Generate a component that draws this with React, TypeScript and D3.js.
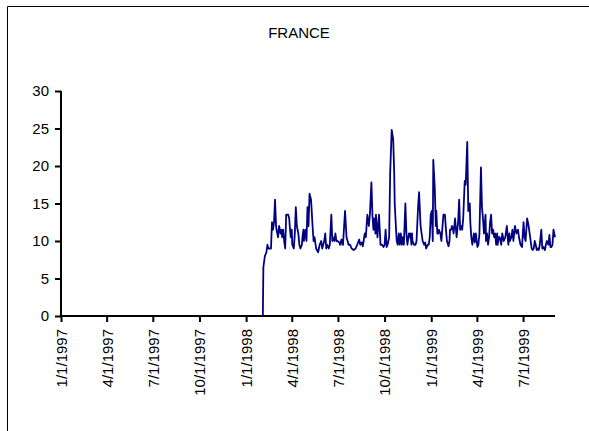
import React, { useRef, useEffect } from 'react';
import * as d3 from 'd3';

// series start date, days after it for each point, and the value
const seriesStart = '1998-02-03';
const dayOffsets = [
  0, 1, 4, 7, 9, 11, 16, 18, 20, 22, 24, 26, 27, 30, 32, 35, 37, 38, 40, 42,
  44, 46, 50, 52, 53, 55, 57, 58, 61, 63, 65, 67, 70, 72, 74, 77, 78, 80, 81, 84,
  86, 88, 90, 92, 95, 98, 100, 102, 104, 105, 109, 112, 115, 117, 119, 121, 123, 125, 127, 130,
  132, 135, 137, 138, 141, 143, 145, 147, 151, 152, 155, 157, 158, 162, 165, 167, 169, 172, 175, 179,
  183, 186, 190, 192, 195, 197, 201, 203, 206, 209, 211, 214, 216, 218, 220, 222, 223, 226, 229, 232,
  235, 238, 240, 242, 244, 246, 249, 251, 254, 257, 259, 260, 263, 264, 266, 268, 270, 272, 274, 276,
  278, 281, 283, 285, 288, 289, 291, 293, 294, 295, 298, 301, 303, 306, 308, 311, 313, 315, 318, 320,
  322, 325, 327, 329, 331, 333, 335, 336, 339, 341, 342, 344, 346, 347, 350, 352, 356, 359, 361, 363,
  366, 368, 369, 371, 373, 375, 376, 379, 382, 385, 387, 389, 391, 393, 395, 398, 400, 403, 405, 408,
  409, 411, 413, 416, 418, 420, 423, 425, 427, 430, 432, 434, 436, 439, 440, 442, 444, 446, 448, 450,
  452, 454, 456, 458, 460, 462, 463, 465, 467, 470, 472, 475, 478, 481, 484, 486, 487, 490, 492, 494,
  497, 500, 503, 505, 508, 511, 514, 516, 518, 521, 524, 527, 530, 532, 534, 536, 538, 540, 542, 544,
  546, 549, 551, 553, 556, 558, 560, 563, 565, 567, 569, 571, 573, 576,
];
const values = [
  0, 6.5, 8, 8.5, 9.5, 9, 9, 12.5, 11.5, 12.5, 15.5, 12, 11.5, 10.5, 12, 11, 11.5, 10.5, 11.5, 10,
  9, 13.5, 13.5, 13, 12, 10.5, 11.5, 9.5, 9, 11, 14.5, 12, 11, 9.5, 9, 9.5, 10.5, 11.5, 10, 11.5,
  10, 14.5, 12, 16.3, 15.5, 12, 10, 10.5, 9.5, 9, 8.5, 9.5, 10, 9, 9.5, 10, 11, 9, 9.5, 9,
  9.5, 13.5, 10, 10.5, 10, 11, 10, 10, 9.8, 9.5, 10.2, 9.5, 9.5, 14, 10.5, 10, 9.5, 9.5, 9, 8.8,
  9, 9.5, 10.2, 9.5, 9.8, 9.3, 11, 10.5, 13.5, 12, 13.5, 17.8, 13.5, 11.5, 13, 11, 13.5, 10.5, 13.5, 9.5,
  9.5, 9.2, 9.5, 11.5, 9.2, 9.5, 10.5, 19, 24.8, 23.5, 19, 15, 11, 10, 9.5, 11, 9.5, 11, 9.5, 10.5,
  9.5, 15, 11, 9.5, 11, 10.5, 11, 9.5, 11, 10, 9.5, 9.5, 10, 14.5, 16.5, 12, 11, 10, 9.5, 9.8,
  9, 9.5, 9.5, 10.5, 13.5, 14, 10, 20.8, 17, 12, 14, 11, 11, 11.5, 11, 10, 13.5, 13.5, 11.5, 10,
  9.3, 10, 11.5, 11.5, 12, 11.5, 11, 13, 10.5, 12.5, 15.5, 11.5, 12, 11.5, 13, 18, 17.5, 23.2, 14, 15,
  12.5, 10.5, 9.5, 11, 9.8, 11, 9.2, 9.5, 11, 19.8, 14.5, 13, 11, 13.5, 10, 11, 9.5, 10.5, 12.5, 13.5,
  11, 11.5, 10.5, 11, 9.5, 11, 9.5, 10.5, 10.5, 9.5, 11, 10, 10.5, 12, 9.5, 11, 10, 10.5, 11.5, 10,
  12, 11, 11.5, 10.5, 9.5, 9.2, 12.5, 10.5, 10, 13, 12, 10.5, 9, 8.8, 9, 10, 9.5, 8.8, 9, 8.8,
  9.5, 11.5, 9, 9.2, 8.8, 9.5, 10, 9.5, 10.8, 9.2, 9.2, 9.5, 11.5, 10.5,
];
const yTicks = [0, 5, 10, 15, 20, 25, 30];
const axisStart = '1997-01-01';
const title = 'FRANCE';

export default function App() {
  const svgRef = useRef<SVGSVGElement>(null);

  useEffect(() => {
    if (!svgRef.current) return;
    const width = 589;
    const height = 431;
    const left = 61;
    const right = 555;
    const top = 91;
    const bottom = 316;
    const font = 'Liberation Sans, Arial, sans-serif';

    const parse = d3.timeParse('%Y-%m-%d');
    const start = parse(seriesStart)!;
    const data = dayOffsets.map((d, i) => ({ date: d3.timeDay.offset(start, d), value: values[i] }));

    const x = d3.scaleTime()
      .domain([parse(axisStart)!, data[data.length - 1].date])
      .range([left, right]);
    const y = d3.scaleLinear().domain([0, 30]).range([bottom, top]);

    const svg = d3.select(svgRef.current);
    svg.selectAll('*').remove();
    svg.attr('width', width).attr('height', height);

    svg.append('rect').attr('width', width).attr('height', height).attr('fill', 'white');

    // chart frame (left and top edges are the only ones inside the picture)
    svg.append('path')
      .attr('d', `M7.5,${height} V6.5 H${width}`)
      .attr('fill', 'none')
      .attr('stroke', 'black')
      .attr('stroke-width', 1);

    svg.append('text')
      .attr('x', 299)
      .attr('y', 38)
      .attr('text-anchor', 'middle')
      .attr('font-family', font)
      .attr('font-size', 15)
      .text(title);

    // data line
    const line = d3.line<typeof data[0]>()
      .x((d) => x(d.date))
      .y((d) => y(d.value));
    svg.append('path')
      .datum(data)
      .attr('d', line)
      .attr('fill', 'none')
      .attr('stroke', '#000080')
      .attr('stroke-width', 1.8)
      .attr('stroke-linejoin', 'round');

    // y axis
    const yAxis = svg.append('g')
      .attr('transform', `translate(${left},0)`)
      .call(d3.axisLeft(y).tickValues(yTicks).tickSize(6).tickPadding(6));
    // x axis
    const xTicks = d3.timeMonth.every(3)!.range(parse(axisStart)!, data[data.length - 1].date);
    const xAxis = svg.append('g')
      .attr('transform', `translate(0,${bottom})`)
      .call(d3.axisBottom(x).tickValues(xTicks).tickSize(6).tickFormat((d) => d3.timeFormat('%-m/%-d/%Y')(d as Date)));

    [yAxis, xAxis].forEach((a) => {
      a.select('.domain').attr('stroke', 'black').attr('stroke-width', 2);
      a.selectAll('.tick line').attr('stroke', 'black').attr('stroke-width', 2);
      a.selectAll('text')
        .attr('fill', 'black')
        .attr('font-family', font)
        .attr('font-size', 15);
    });
    yAxis.select('.domain').attr('d', `M0,${bottom}V${top}`);
    xAxis.select('.domain').attr('d', `M${left},0H${right}`);

    xAxis.selectAll('text')
      .attr('transform', 'rotate(-90)')
      .attr('text-anchor', 'end')
      .attr('x', -13)
      .attr('y', 0)
      .attr('dy', '0.36em');
  }, []);

  return (
    <svg ref={svgRef} style={{ position: 'absolute', left: 0, top: 0, display: 'block' }} />
  );
}
